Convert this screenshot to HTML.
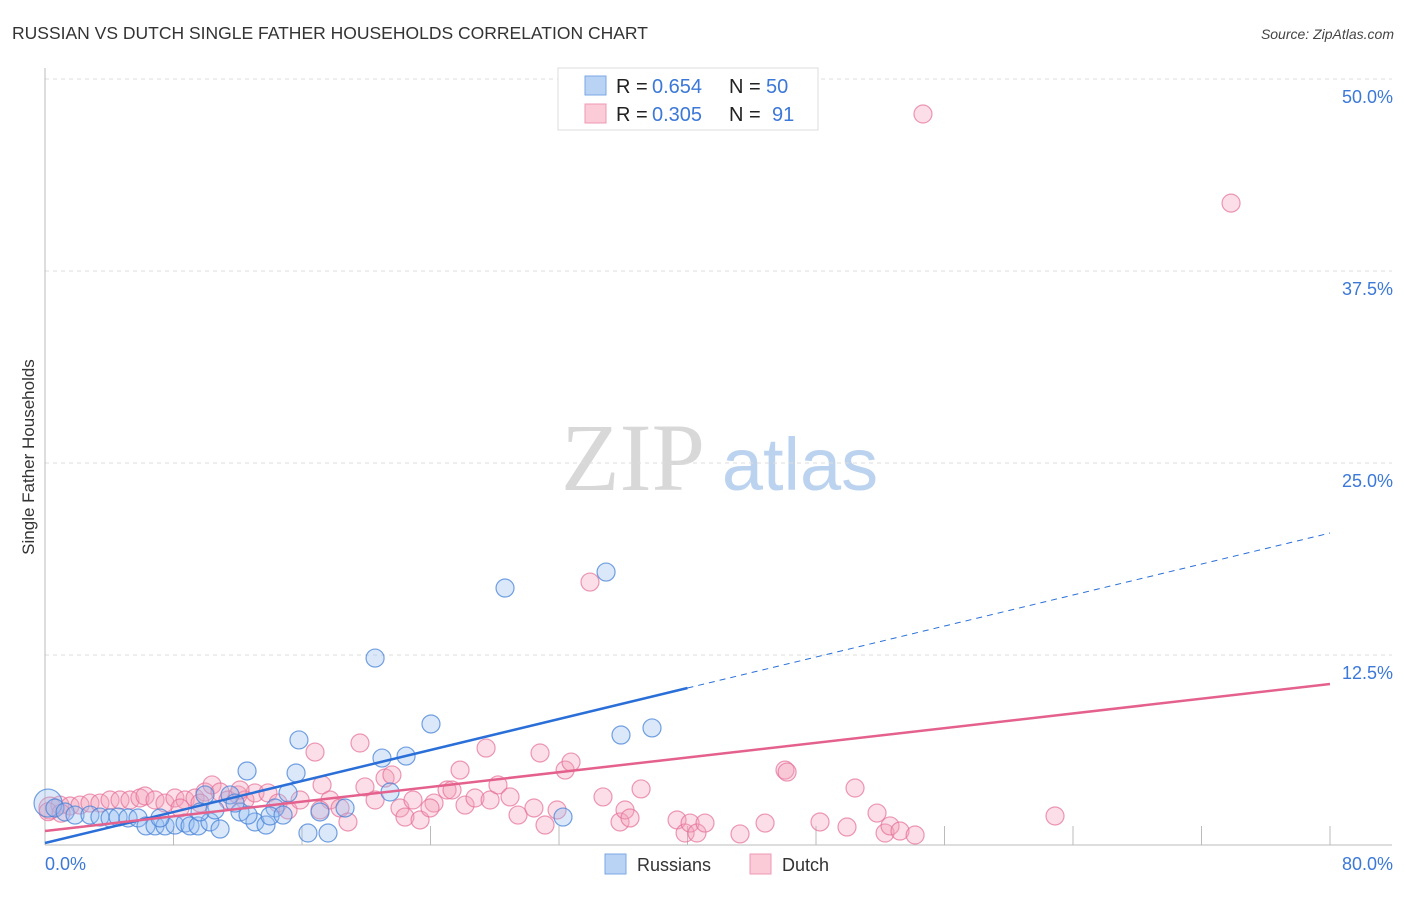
<!DOCTYPE html>
<html><head><meta charset="utf-8"><style>
body{margin:0;background:#fff;font-family:"Liberation Sans",sans-serif;}
</style></head><body>
<svg id="chart" width="1406" height="892" xmlns="http://www.w3.org/2000/svg">
<text x="12" y="39" font-size="17.5" fill="#333">RUSSIAN VS DUTCH SINGLE FATHER HOUSEHOLDS CORRELATION CHART</text>
<text x="1394" y="39" font-size="14" fill="#444" font-style="italic" text-anchor="end">Source: ZipAtlas.com</text>
<text transform="translate(34,457) rotate(-90)" font-size="17" fill="#333" text-anchor="middle">Single Father Households</text>
<g>
<text x="633" y="490" font-size="96" font-family="Liberation Serif,serif" fill="#d8d8d8" text-anchor="middle">ZIP</text>
<text x="800" y="490" font-size="74" fill="#bcd3f0" text-anchor="middle">atlas</text>
</g>
<g id="grid"></g>
<g id="axes"></g>
<g id="marks"></g>
<g>
<rect x="558" y="68" width="260" height="62" fill="#fff" stroke="#ddd"/>
<rect x="585" y="76" width="21" height="19" fill="#b9d3f5" stroke="#7aa7e6"/>
<rect x="585" y="104" width="21" height="19" fill="#fbcbd8" stroke="#ef9ab5"/>
<g font-size="20">
<text x="616" y="93" fill="#222">R =</text><text x="652" y="93" fill="#3b78d8">0.654</text>
<text x="729" y="93" fill="#222">N =</text><text x="766" y="93" fill="#3b78d8">50</text>
</g>
<g font-size="20">
<text x="616" y="121" fill="#222">R =</text><text x="652" y="121" fill="#3b78d8">0.305</text>
<text x="729" y="121" fill="#222">N =</text><text x="772" y="121" fill="#3b78d8">91</text>
</g>
</g>
<g>
<rect x="605" y="854" width="21" height="20" fill="#b9d3f5" stroke="#7aa7e6"/>
<text x="637" y="871" font-size="18" fill="#333">Russians</text>
<rect x="750" y="854" width="21" height="20" fill="#fbcbd8" stroke="#ef9ab5"/>
<text x="782" y="871" font-size="18" fill="#333">Dutch</text>
</g>
</svg>
<script>
const yTicks=[12.5,25,37.5,50];
const yTickLabels=["12.5%","25.0%","37.5%","50.0%"];
const xTickLabels=["0.0%","80.0%"];
const russiansX=[0.19,0.62,1.25,1.87,2.80,3.42,4.05,4.55,5.17,5.79,6.29,6.85,7.47,8.09,8.72,9.03,9.53,10.27,10.90,11.52,12.14,12.58,13.07,13.76,14.32,15.13,15.63,15.81,16.37,17.12,17.62,18.68,20.55,20.98,21.48,22.48,24.03,28.64,32.25,34.93,35.86,37.79,14.01,11.83,7.16,9.65,10.58,12.64,14.82,9.96];
const russiansY=[2.86,2.54,2.28,2.08,2.08,1.95,1.89,1.95,1.89,1.89,1.37,1.37,1.37,1.43,1.56,1.37,1.37,1.63,1.17,3.39,2.28,4.95,1.63,1.43,2.54,3.52,4.82,6.97,0.91,2.28,0.91,2.54,12.30,5.79,3.58,5.92,8.01,16.86,1.95,17.90,7.29,7.75,2.02,2.86,1.89,2.28,2.41,2.08,2.08,3.39];
const dutchX=[0.31,0.93,1.56,2.18,2.80,3.42,4.05,4.67,5.29,5.91,6.23,6.85,7.47,8.09,8.72,9.34,9.96,10.40,10.90,11.39,12.02,12.45,13.07,13.88,14.51,15.13,15.88,16.81,17.25,17.74,18.37,18.86,19.61,19.92,20.55,21.17,21.60,22.10,22.41,22.91,23.35,24.22,25.03,25.34,25.84,26.15,26.77,27.46,27.71,28.20,28.95,29.45,30.44,30.82,31.13,31.88,32.38,32.75,33.93,34.74,35.80,36.11,36.42,37.11,39.35,39.85,40.16,40.59,41.09,43.27,44.83,46.07,46.20,48.25,49.93,50.43,51.80,52.30,52.61,53.23,54.17,54.66,62.88,73.84,12.14,8.41,9.65,17.12,23.97,0.2,1.0];
const dutchY=[2.54,2.73,2.67,2.73,2.86,2.86,3.06,3.06,3.06,3.19,3.32,3.06,2.86,3.19,3.06,3.19,3.58,4.04,3.58,3.06,3.39,3.06,3.52,3.52,2.86,2.41,3.06,6.18,4.04,3.06,2.54,1.63,6.77,3.91,3.06,4.49,4.69,2.54,1.95,3.06,1.76,2.86,3.71,3.71,5.01,2.73,3.19,6.44,3.06,4.04,3.26,2.08,2.54,6.12,1.43,2.41,5.01,5.53,17.25,3.26,1.63,2.41,1.89,3.78,1.76,0.91,1.56,0.91,1.56,0.85,1.56,5.01,4.88,1.63,1.30,3.84,2.21,0.91,1.37,1.04,0.78,47.72,2.02,41.92,3.71,2.54,2.86,2.41,2.54,2.3,2.2];
const russiansTrend=[0.26,20.44];
const dutchTrend=[1.04,10.61];
const X0=45,X1=1330,Y0=847,Y1=79;
const xs=v=>X0+v/80*(X1-X0);
const ys=v=>Y0-v/50*(Y0-Y1);
const NS="http://www.w3.org/2000/svg";
function mk(tag,attrs,parent){const e=document.createElementNS(NS,tag);for(const k in attrs)e.setAttribute(k,attrs[k]);parent.appendChild(e);return e;}
const grid=document.getElementById('grid'),axes=document.getElementById('axes'),marks=document.getElementById('marks');
yTicks.forEach((t,i)=>{
 const l=mk('line',{x1:X0,x2:1392,y1:ys(t),y2:ys(t),stroke:'#ddd','stroke-dasharray':'4,4'},grid);
 
 
 const tx=mk('text',{x:1393,y:ys(t)+24,'font-size':18,fill:'#3b78d8','text-anchor':'end'},grid);
 tx.textContent=yTickLabels[i];
 
 
});
const la=mk('line',{x1:X0,x2:X0,y1:68,y2:845,stroke:'#bbb'},axes);


const ba=mk('line',{x1:X0,x2:1392,y1:845,y2:845,stroke:'#bbb'},axes);


for(let i=1;i<=10;i++){
 const t=mk('line',{x1:xs(i*8),x2:xs(i*8),y1:826,y2:845,stroke:'#bbb'},axes);
 
 
}
const xl0=mk('text',{x:45,y:870,'font-size':18,fill:'#3b78d8'},axes);xl0.textContent=xTickLabels[0];


const xl1=mk('text',{x:1393,y:870,'font-size':18,fill:'#3b78d8','text-anchor':'end'},axes);xl1.textContent=xTickLabels[1];


dutchX.forEach((x,i)=>{
 const c=mk('circle',{cx:xs(x),cy:ys(dutchY[i]),r:i==0?11:9,fill:'rgba(244,160,185,0.35)',stroke:'rgba(230,110,150,0.7)','stroke-width':1.2},marks);
 
 
});
russiansX.forEach((x,i)=>{
 const c=mk('circle',{cx:xs(x),cy:ys(russiansY[i]),r:i==0?14:9,fill:'rgba(150,190,240,0.35)',stroke:'rgba(70,130,215,0.75)','stroke-width':1.2},marks);
 
 
});
const rAt=v=>russiansTrend[0]+(russiansTrend[1]-russiansTrend[0])*v/80;
const rl=mk('line',{x1:xs(0),y1:ys(rAt(0)),x2:xs(40),y2:ys(rAt(40)),stroke:'#2a6fd8','stroke-width':2.5},marks);


const rd=mk('line',{x1:xs(40),y1:ys(rAt(40)),x2:xs(80),y2:ys(rAt(80)),stroke:'#2a6fd8','stroke-width':1,'stroke-dasharray':'6,5'},marks);


const dl=mk('line',{x1:xs(0),y1:ys(dutchTrend[0]),x2:xs(80),y2:ys(dutchTrend[1]),stroke:'#e5618d','stroke-width':2.5},marks);


</script>
</body></html>
